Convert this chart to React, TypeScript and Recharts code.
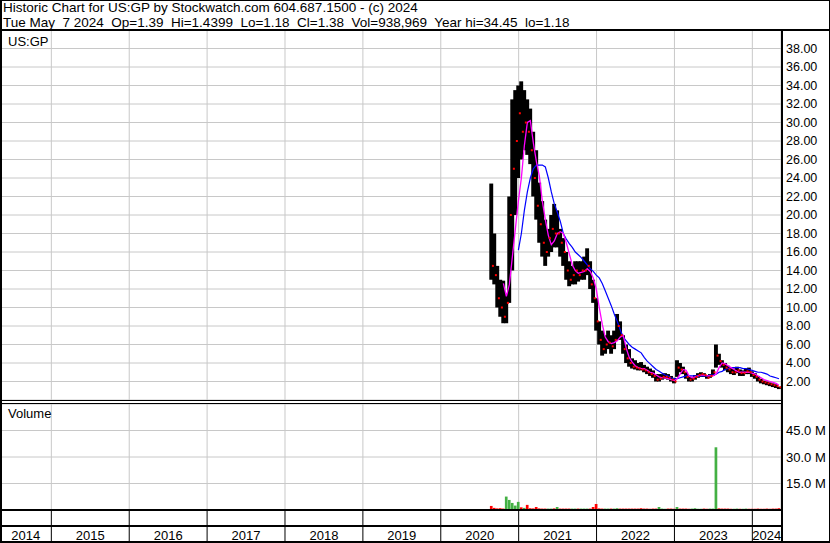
import { ComposedChart, Bar, Line, Scatter, XAxis, YAxis, CartesianGrid, Cell } from "recharts";

// time axis (fractional years), chart covers May 2014 .. May 2024
const X_START = 2014.341;
const X_END = 2024.368;
const FIRST_T = 2020.65;
const STEP = 1 / 26; // two-week buckets

const yearLines = [2015, 2016, 2017, 2018, 2019, 2020, 2021, 2022, 2023, 2024];
const yearLabels = [2014, 2015, 2016, 2017, 2018, 2019, 2020, 2021, 2022, 2023, 2024];
const priceTicks = [2, 4, 6, 8, 10, 12, 14, 16, 18, 20, 22, 24, 26, 28, 30, 32, 34, 36, 38];
const volumeTicks = [15, 30, 45];

const high = [
  23.4, 18.0, 14.5, 13.0, 12.9, 11.5, 22.0, 32.5, 33.5, 34.0,
  34.45, 33.5, 32.5, 31.5, 29.0, 27.0, 23.5, 21.5, 19.5, 18.5,
  20.0, 21.2, 20.5, 18.5, 17.5, 16.0, 15.0, 14.5, 15.0, 15.0,
  15.0, 15.5, 16.4, 15.0, 13.0, 11.0, 8.5, 7.5, 7.0, 7.5,
  7.0, 7.5, 9.3, 8.5, 7.0, 6.0, 5.5, 4.5, 4.3, 4.0,
  4.1, 3.8, 3.6, 3.4, 3.2, 2.8, 2.8, 2.8, 2.9, 2.8,
  2.6, 2.4, 4.3, 4.0, 3.6, 3.0, 2.6, 2.5, 2.7, 2.9,
  3.0, 2.9, 2.7, 2.8, 3.3, 6.0, 5.0, 4.3, 4.0, 3.7,
  3.5, 3.4, 3.6, 3.3, 3.2, 3.4, 3.5, 3.1, 2.9, 2.6,
  2.3, 2.1, 2.0, 1.9, 1.8, 1.7, 1.44,
];
const low = [
  13.0, 12.5, 10.0, 9.0, 8.3, 8.3, 10.5, 14.0, 20.0, 24.0,
  26.0, 27.0, 26.5, 25.5, 22.0, 19.5, 17.0, 15.5, 14.5, 15.5,
  16.0, 16.5, 16.5, 15.5, 14.5, 13.0, 12.3, 12.5, 12.5, 12.8,
  13.0, 13.0, 13.5, 12.0, 10.5, 7.5, 6.0, 4.8, 5.0, 5.5,
  5.0, 5.5, 6.5, 6.5, 5.0, 4.0, 3.6, 3.4, 3.3, 3.2,
  3.2, 3.0, 2.8, 2.6, 2.4, 2.0, 2.0, 2.2, 2.3, 2.2,
  2.0, 1.8, 2.5, 3.0, 2.8, 2.3, 2.0, 2.0, 2.2, 2.4,
  2.5, 2.5, 2.3, 2.4, 2.6, 3.5, 3.8, 3.5, 3.2, 3.0,
  2.8, 2.7, 2.9, 2.6, 2.6, 2.8, 2.8, 2.5, 2.3, 2.0,
  1.8, 1.7, 1.6, 1.5, 1.4, 1.3, 1.18,
];
const close = [
  14.5, 13.5, 11.0, 10.0, 9.0, 10.5, 20.0, 25.0, 28.0, 31.0,
  29.0, 30.0, 29.0, 27.0, 24.0, 21.0, 19.0, 17.0, 16.0, 17.5,
  18.5, 18.0, 18.0, 17.0, 16.0, 14.0, 13.0, 13.5, 14.0, 13.5,
  14.0, 14.0, 14.5, 12.5, 11.0, 8.5, 6.5, 5.5, 6.0, 6.2,
  5.8, 6.5, 8.0, 7.0, 5.5, 4.5, 4.0, 3.6, 3.5, 3.4,
  3.3, 3.2, 3.0, 2.8, 2.6, 2.2, 2.3, 2.5, 2.5, 2.4,
  2.2, 2.0, 3.5, 3.3, 3.0, 2.5, 2.2, 2.3, 2.5, 2.7,
  2.8, 2.7, 2.4, 2.6, 3.0, 4.8, 4.2, 3.8, 3.5, 3.3,
  3.0, 3.0, 3.2, 2.9, 2.9, 3.1, 3.0, 2.7, 2.5, 2.2,
  2.0, 1.9, 1.8, 1.7, 1.6, 1.5, 1.38,
];
const maFast = [
  null, null, null, null, 12.6, 11.2, 12.5, 15.5, 18.5, 21.5,
  24.0, 27.5, 30.0, 30.2, 27.8, 25.8, 24.2, 21.5, 19.5, 17.8,
  16.8, 17.2, 18.0, 18.2, 18.0, 17.0, 15.8, 14.6, 14.0, 13.7,
  13.8, 13.9, 14.2, 13.9, 13.2, 12.0, 10.0, 8.2, 6.8, 6.3,
  6.1, 6.2, 6.4, 6.8, 7.0, 5.6, 4.6, 4.1, 3.7, 3.5,
  3.4, 3.4, 3.2, 3.0, 2.9, 2.7, 2.5, 2.4, 2.4, 2.3,
  2.2, 2.1, 2.3, 2.8, 3.3, 3.2, 2.6, 2.4, 2.5, 2.6,
  2.7, 2.7, 2.6, 2.6, 2.6, 2.8, 3.5, 4.0, 3.9, 3.7,
  3.5, 3.3, 3.1, 3.0, 3.0, 3.0, 3.0, 2.9, 2.8, 2.6,
  2.4, 2.2, 2.1, 2.0, 1.9, 1.8, 1.6,
];
const maSlow = [
  null, null, null, null, null, null, null, null, null, 16.2,
  18.0, 20.5, 22.5, 24.0, 25.0, 25.4, 25.4, 25.4, 25.2, 24.0,
  22.5, 21.2, 20.3, 19.3, 18.0, 17.4, 16.9, 16.5, 16.0, 15.7,
  15.4, 15.0, 14.6, 14.2, 13.9, 13.5, 13.2, 12.6, 11.8, 11.0,
  10.2, 9.3, 8.5, 7.6, 6.8, 6.4, 6.0, 5.7, 5.5, 5.3,
  5.1, 4.6, 4.2, 3.9, 3.6, 3.3, 3.1, 2.9, 2.7, 2.6,
  2.4, 2.3, 2.3, 2.4, 2.5, 2.6, 2.6, 2.6, 2.6, 2.6,
  2.6, 2.6, 2.6, 2.7, 2.7, 2.8, 3.0, 3.1, 3.3, 3.4,
  3.5, 3.5, 3.5, 3.5, 3.4, 3.4, 3.3, 3.2, 3.1, 3.0,
  3.0, 2.9, 2.8, 2.6, 2.5, 2.4, 2.3,
];
// millions of shares
const volume = [
  2.3, 1.2, 0.9, 1.0, 0.8, 7.6, 5.7, 4.0, 2.5, 4.6,
  1.5, 1.2, 2.9, 1.0, 0.9, 1.7, 0.9, 0.8, 0.8, 0.8,
  0.8, 0.9, 1.7, 0.8, 0.8, 0.8, 0.8, 0.8, 0.8, 0.8,
  0.8, 0.8, 0.8, 0.8, 1.7, 3.4, 0.9, 0.8, 0.8, 0.8,
  0.8, 0.8, 1.0, 0.8, 0.8, 0.8, 0.8, 0.8, 0.8, 0.8,
  1.0, 0.8, 0.8, 0.7, 0.8, 0.8, 1.7, 0.8, 0.7, 0.8,
  0.8, 0.7, 1.7, 0.8, 0.8, 0.8, 0.7, 0.8, 1.0, 0.7,
  0.7, 0.8, 0.7, 0.8, 0.8, 35.5, 0.9, 0.8, 0.8, 0.8,
  0.7, 0.7, 0.8, 0.7, 0.7, 0.8, 0.7, 0.7, 0.7, 0.8,
  0.7, 0.7, 0.8, 0.7, 0.8, 0.8, 1.0,
];

const rows = high.map((h, i) => ({
  t: FIRST_T + i * STEP,
  range: [low[i], h],
  close: close[i],
  fast: maFast[i],
  slow: maSlow[i],
  vol: volume[i],
  up: i > 0 && close[i] >= close[i - 1],
}));

const labelCenters = yearLabels.map(
  (y) => (Math.max(y, X_START) + Math.min(y + 1, X_END)) / 2
);

const FONT = '"Liberation Sans", Arial, sans-serif';
const GRID = "#c8c8c8";

const CloseTick = (props: any) => {
  const { cx, cy } = props;
  if (cx == null || cy == null) return null;
  return <rect x={cx + 0.5} y={cy - 1} width={2} height={2} fill="#ff0000" />;
};

// hi-lo bar, widened a touch so neighbouring buckets merge like the daily bars do
const HiLoBar = (props: any) => {
  const { x, y, width, height } = props;
  if (x == null || y == null) return null;
  return <rect x={x - 0.6} y={y} width={width + 1.2} height={Math.max(height, 1)} fill="#000" />;
};

const YearTick = (props: any) => {
  const { x, y, payload } = props;
  const v = payload.value;
  if (Number.isInteger(v)) {
    return <line x1={x} x2={x} y1={y - 29} y2={y + 5} stroke="#000" strokeWidth={1} />;
  }
  return (
    <text x={x} y={y - 0.5} textAnchor="middle" fontSize={13} fill="#000" fontFamily={FONT}>
      {Math.floor(v)}
    </text>
  );
};

export default function App() {
  return (
    <div
      style={{
        position: "absolute",
        left: 0,
        top: 0,
        width: 830,
        height: 543,
        background: "#fff",
        fontFamily: FONT,
        overflow: "hidden",
      }}
    >
      <div
        style={{
          position: "absolute",
          left: 3,
          top: 0,
          fontSize: 13.5,
          lineHeight: "15px",
          whiteSpace: "pre",
          color: "#000",
        }}
      >
        {"Historic Chart for US:GP by Stockwatch.com 604.687.1500 - (c) 2024\n"}
        {"Tue May  7 2024  Op=1.39  Hi=1.4399  Lo=1.18  Cl=1.38  Vol=938,969  Year hi=34.45  lo=1.18"}
      </div>

      {/* price panel */}
      <div style={{ position: "absolute", left: 0, top: 30 }}>
        <ComposedChart width={830} height={370} data={rows} margin={{ top: 0, right: 0, bottom: 0, left: 0 }}>
          <CartesianGrid stroke={GRID} strokeWidth={1} />
          <XAxis
            dataKey="t"
            type="number"
            domain={[X_START, X_END]}
            ticks={yearLines}
            allowDataOverflow
            hide
          />
          <YAxis
            orientation="right"
            width={49}
            domain={[0, 40]}
            ticks={priceTicks}
            interval={0}
            axisLine={false}
            tickLine={false}
            tickSize={4}
            tickMargin={1}
            tickFormatter={(v) => Number(v).toFixed(2)}
            tick={{ fill: "#000", fontSize: 12.5, fontFamily: FONT, textAnchor: "start" }}
          />
          <Bar dataKey="range" fill="#000" barSize={3} shape={<HiLoBar />} isAnimationActive={false} />
          <Scatter dataKey="close" shape={<CloseTick />} isAnimationActive={false} />
          <Line
            dataKey="slow"
            type="linear"
            stroke="#0000ff"
            strokeWidth={1.2}
            dot={false}
            isAnimationActive={false}
          />
          <Line
            dataKey="fast"
            type="linear"
            stroke="#ff00ff"
            strokeWidth={1.3}
            dot={false}
            isAnimationActive={false}
          />
        </ComposedChart>
      </div>

      {/* volume panel + year row */}
      <div style={{ position: "absolute", left: 0, top: 403 }}>
        <ComposedChart width={830} height={140} data={rows} margin={{ top: 1, right: 0, bottom: 0, left: 0 }}>
          <CartesianGrid stroke={GRID} strokeWidth={1} />
          <XAxis
            dataKey="t"
            type="number"
            domain={[X_START, X_END]}
            ticks={yearLines}
            allowDataOverflow
            hide
          />
          <XAxis
            xAxisId="lab"
            dataKey="t"
            type="number"
            domain={[X_START, X_END]}
            ticks={[...yearLines, ...labelCenters]}
            interval={0}
            allowDataOverflow
            height={33}
            axisLine={false}
            tickLine={false}
            tickSize={0}
            tickMargin={0}
            tick={<YearTick />}
          />
          <YAxis
            orientation="right"
            width={49}
            domain={[0, 60]}
            ticks={volumeTicks}
            interval={0}
            axisLine={false}
            tickLine={false}
            tickSize={4}
            tickMargin={1}
            tickFormatter={(v) => `${Number(v).toFixed(1)} M`}
            tick={{ fill: "#000", fontSize: 13, fontFamily: FONT, textAnchor: "start" }}
          />
          <Bar dataKey="vol" barSize={3} isAnimationActive={false}>
            {rows.map((r, i) => (
              <Cell key={i} fill={r.up ? "#44b044" : "#ff0000"} />
            ))}
          </Bar>
        </ComposedChart>
      </div>

      <div style={{ position: "absolute", left: 8, top: 34, fontSize: 13 }}>US:GP</div>
      <div style={{ position: "absolute", left: 8, top: 406, fontSize: 13 }}>Volume</div>

      {/* panel frame */}
      <svg width={830} height={543} style={{ position: "absolute", left: 0, top: 0, pointerEvents: "none" }}>
        <rect x={0.5} y={0.5} width={829} height={542} fill="none" stroke="#000" />
        <rect x={0} y={0} width={2} height={543} fill="#000" />
        <rect x={0} y={29} width={830} height={2} fill="#000" />
        <rect x={781} y={30} width={2} height={512} fill="#000" />
        <rect x={0} y={400} width={782} height={1} fill="#000" />
        <rect x={0} y={403} width={782} height={1} fill="#000" />
        <rect x={0} y={509} width={782} height={2} fill="#000" />
        <rect x={0} y={525} width={782} height={2} fill="#000" />
        <rect x={0} y={541} width={830} height={2} fill="#000" />
      </svg>
    </div>
  );
}
